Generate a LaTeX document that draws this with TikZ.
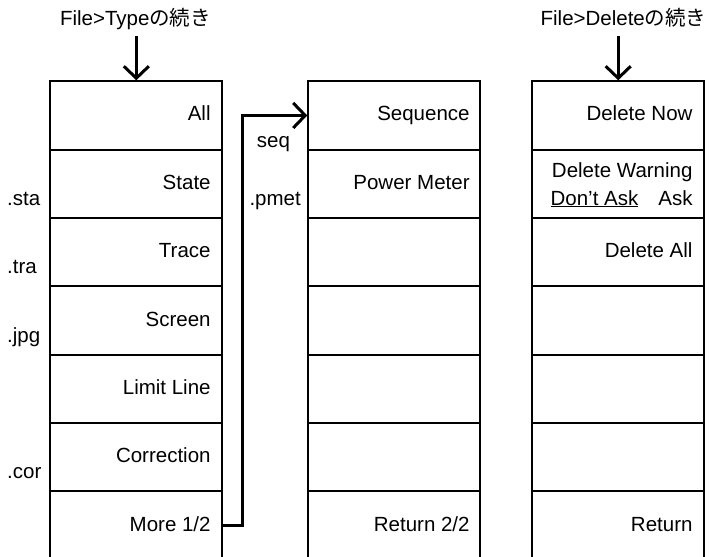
\documentclass[tikz,border=0pt]{standalone}
\usepackage{fontspec}
\setmainfont{Liberation Sans}
\newfontfamily\cjk{Noto Sans CJK JP}
\usetikzlibrary{arrows.meta,calc}
\begin{document}
\begin{tikzpicture}[x=1pt,y=-1pt,
  cell/.style={draw, line width=2pt, minimum width=172pt, minimum height=68.35pt, inner sep=0pt, anchor=north west},
  lbl/.style={anchor=base east, inner sep=0pt},
  side/.style={anchor=base west, inner sep=0pt},
  arr/.style={line width=3pt, -{Straight Barb[length=12pt,width=25pt]}},
  font=\fontsize{20.5}{24}\selectfont]
\useasboundingbox (0,0) rectangle (711,556);
% columns
\foreach \i in {1,...,7} {
  \node[cell] (a\i) at (49.3, {80.3+68.35*(\i-1)}) {};
  \node[cell] (b\i) at (307.3, {80.3+68.35*(\i-1)}) {};
  \node[cell] (c\i) at (531.2, {80.3+68.35*(\i-1)}) {};
}
% column 1 texts
\node[lbl] (ta1) at ($(a1.east)+(-12.5,5.5)$) {All};
\node[lbl] (ta2) at ($(a2.east)+(-12.5,5.5)$) {State};
\node[lbl] (ta3) at ($(a3.east)+(-12.5,5.5)$) {Trace};
\node[lbl] (ta4) at ($(a4.east)+(-12.5,5.5)$) {Screen};
\node[lbl] (ta5) at ($(a5.east)+(-12.5,5.5)$) {Limit Line};
\node[lbl] (ta6) at ($(a6.east)+(-12.5,5.5)$) {Correction};
\node[lbl] (ta7) at ($(a7.east)+(-12.5,5.5)$) {More 1/2};
% side labels
\node[side] (ssta) at ($(a2.west)+(-42.3,21.5)$) {.sta};
\node[side] (stra) at ($(a3.west)+(-42.3,21.5)$) {.tra};
\node[side] (sjpg) at ($(a4.west)+(-42.3,21.5)$) {.jpg};
\node[side] (scor) at ($(a6.west)+(-42.3,21.5)$) {.cor};
\node[side] (sseq) at ($(b1.west)+(-50.6,32)$) {seq};
\node[side] (spmet) at ($(b2.west)+(-58,21.5)$) {.pmet};
% column 2 texts
\node[lbl] (tb1) at ($(b1.east)+(-11.5,5.5)$) {Sequence};
\node[lbl] (tb2) at ($(b2.east)+(-11.5,5.5)$) {Power Meter};
\node[lbl] (tb7) at ($(b7.east)+(-11.5,5.5)$) {Return 2/2};
% column 3 texts
\node[lbl] (tc1) at ($(c1.east)+(-12.5,5.5)$) {Delete Now};
\node[lbl] (tc2a) at ($(c2.east)+(-12.5,-6.1)$) {Delete Warning};
\node[lbl] (tc2b) at ($(c2.east)+(-12.5,21.2)$) {\underline{Don’t Ask}\hspace{20pt}Ask};
\node[lbl] (tc3) at ($(c3.east)+(-12.5,5.5)$) {Delete All};
\node[lbl] (tc7) at ($(c7.east)+(-12.5,5.5)$) {Return};
% headers
\node[anchor=base, inner sep=0pt] (h1) at (135.5,26) {File>Type{\cjk の続き}};
\node[anchor=base, inner sep=0pt] (h2) at (623.5,26) {File>Delete{\cjk の続き}};
\coordinate (h1a) at ($(a1.north)+(0,-44.3)$);
\coordinate (h2a) at ($(c1.north)+(0,-44.3)$);
\draw[arr] (h1a) -- (a1.north);
\draw[arr] (h2a) -- (c1.north);
% connector
\draw[arr] (a7.east) -- ++(19,0) |- (b1.west);
\end{tikzpicture}
\end{document}
